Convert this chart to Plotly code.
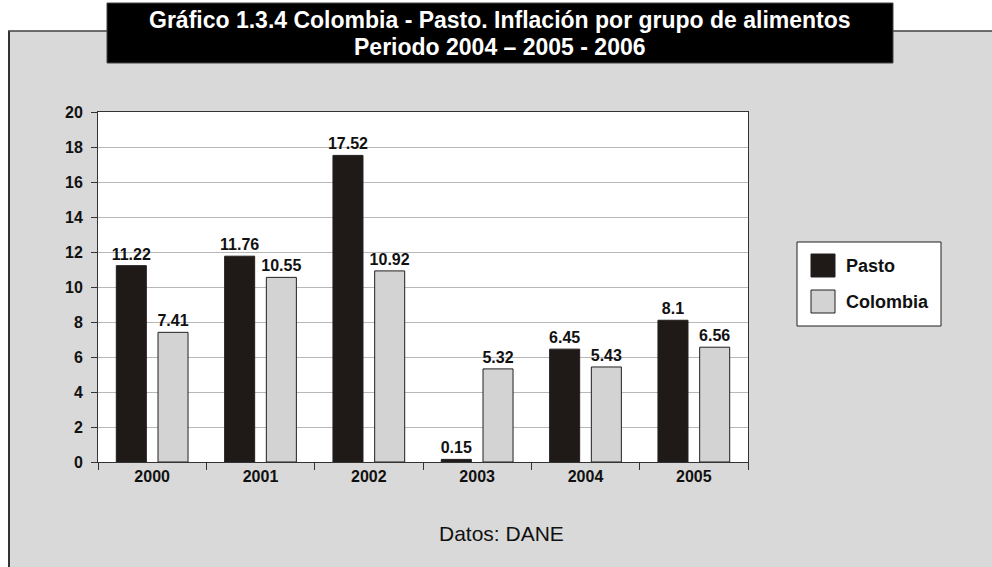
import plotly.graph_objects as go

# Food inflation by year: Pasto vs. national (Colombia)
years = ["2000", "2001", "2002", "2003", "2004", "2005"]
pasto = [11.22, 11.76, 17.52, 0.15, 6.45, 8.1]
colombia = [7.41, 10.55, 10.92, 5.32, 5.43, 6.56]
series_names = ["Pasto", "Colombia"]
series_colors = ["#1f1a17", "#d3d3d3"]
y_ticks = list(range(0, 21, 2))

title_line1 = "Gráfico 1.3.4 Colombia - Pasto. Inflación por grupo de alimentos"
title_line2 = "Periodo 2004 – 2005 - 2006"
source_note = "Datos: DANE"

W, H = 992, 567
L, R, T, B = 98, 748, 112, 462  # plot area in pixels
FONT = "Liberation Sans, Arial, sans-serif"
EDGE = "#231f20"


def px(x):
    return (x - L) / (R - L)


def py(y):
    return (B - y) / (B - T)


fig = go.Figure()
for name, vals, col in zip(series_names, [pasto, colombia], series_colors):
    fig.add_trace(go.Bar(
        x=years, y=vals, name=name,
        marker=dict(color=col, line=dict(color=EDGE, width=1)),
        texttemplate="%{y}", textposition="outside", constraintext="none",
        textfont=dict(family=FONT, size=16, color="#111", weight="bold"),
        cliponaxis=False, showlegend=False,
    ))

shapes = [
    # grey panel with left and top rules
    dict(type="rect", xref="paper", yref="paper", layer="below",
         x0=px(8), x1=px(1010), y0=py(31), y1=py(620),
         fillcolor="#d9d9d9", line=dict(width=0)),
    dict(type="line", xref="paper", yref="paper", layer="below",
         x0=px(9), x1=px(9), y0=py(31), y1=py(620),
         line=dict(color="#333333", width=2)),
    dict(type="line", xref="paper", yref="paper", layer="below",
         x0=px(8), x1=px(1010), y0=py(31), y1=py(31),
         line=dict(color="#404040", width=1.5)),
    # white plotting area
    dict(type="rect", xref="paper", yref="paper", layer="below",
         x0=0, x1=1, y0=0, y1=1, fillcolor="white", line=dict(width=0)),
    # title banner
    dict(type="rect", xref="paper", yref="paper", layer="below",
         x0=px(107), x1=px(893), y0=py(3), y1=py(63),
         fillcolor="black", line=dict(color="#444444", width=1)),
    # legend box
    dict(type="rect", xref="paper", yref="paper",
         x0=px(797), x1=px(941), y0=py(242), y1=py(326),
         fillcolor="white", line=dict(color=EDGE, width=1)),
]


def label(text, x, y, size, color="#111", weight="bold", xanchor="center"):
    return dict(text=text, x=px(x), y=py(y), xref="paper", yref="paper",
                xanchor=xanchor, yanchor="middle", showarrow=False,
                font=dict(family=FONT, size=size, color=color, weight=weight))


annotations = [
    label(title_line1, 500, 20, 23, color="white"),
    label(title_line2, 500, 47, 23, color="white"),
    label(source_note, 502, 533, 21, weight="normal"),
]

# legend entries
for i, (name, col) in enumerate(zip(series_names, series_colors)):
    top = 254 + i * 36
    shapes.append(dict(type="rect", xref="paper", yref="paper",
                       x0=px(811), x1=px(835), y0=py(top), y1=py(top + 23),
                       fillcolor=col, line=dict(color=EDGE, width=1)))
    annotations.append(label(name, 844, top + 11.5, 18, xanchor="left"))

fig.update_layout(
    width=W, height=H,
    margin=dict(l=L, r=W - R, t=T, b=H - B, pad=0),
    paper_bgcolor="white", plot_bgcolor="white",
    barmode="group", bargap=0.23, bargroupgap=0.28,
    shapes=shapes, annotations=annotations,
    xaxis=dict(
        type="category", showgrid=False, showline=True, linecolor="#333333", linewidth=1,
        mirror=True, ticks="outside", tickson="boundaries", ticklen=7, tickcolor="#333333",
        tickfont=dict(family=FONT, size=16, color="#111", weight="bold"),
    ),
    yaxis=dict(
        range=[0, 20], tickvals=y_ticks, showgrid=True, gridcolor="#b8b8b8", gridwidth=1,
        showline=True, linecolor="#333333", linewidth=1, mirror=True,
        ticks="outside", ticklen=6, tickcolor="#333333", zeroline=False,
        ticklabelstandoff=5,
        tickfont=dict(family=FONT, size=16, color="#111", weight="bold"),
    ),
)

fig.write_html("out.html")
